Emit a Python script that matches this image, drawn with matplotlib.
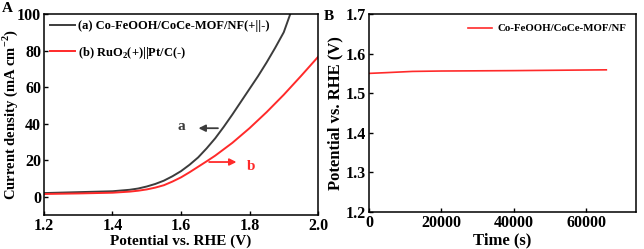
import matplotlib
matplotlib.use("Agg")
import matplotlib.pyplot as plt

plt.rcParams['font.family'] = ['Liberation Serif', 'DejaVu Serif']
plt.rcParams['font.weight'] = 'bold'
plt.rcParams['mathtext.fontset'] = 'custom'
plt.rcParams['mathtext.rm'] = 'Liberation Serif:bold'
plt.rcParams['mathtext.bf'] = 'Liberation Serif:bold'

# Panel A: LSV curves
potential_a = [1.20, 1.30, 1.40, 1.45, 1.475, 1.50, 1.525, 1.55, 1.575, 1.60, 1.625, 1.65, 1.675,
               1.70, 1.725, 1.75, 1.775, 1.80, 1.825, 1.85, 1.875, 1.90, 1.92]
current_a = [2.0, 2.5, 3.0, 3.8, 4.5, 5.6, 7.0, 8.8, 11.2, 14.0, 17.5, 21.5, 26.5,
             32.0, 38.3, 45.0, 52.0, 59.0, 66.0, 73.5, 81.5, 90.0, 100.5]
potential_b = [1.20, 1.30, 1.40, 1.45, 1.475, 1.50, 1.525, 1.55, 1.575, 1.60, 1.625, 1.65, 1.675,
               1.70, 1.75, 1.80, 1.85, 1.90, 1.95, 2.00]
current_b = [1.5, 1.8, 2.2, 2.8, 3.3, 4.0, 5.0, 6.3, 8.3, 10.6, 13.4, 16.4, 19.4,
             22.5, 29.5, 37.5, 46.3, 55.8, 66.0, 76.5]
label_a = '(a) Co-FeOOH/CoCe-MOF/NF(+||-)'
label_b = '(b) RuO$_2$(+)||Pt/C(-)'

# Panel B: stability
time_s = [0, 5000, 12000, 20000, 40000, 65500]
potential_t = [1.550, 1.552, 1.555, 1.556, 1.557, 1.559]
label_t = 'Co-FeOOH/CoCe-MOF/NF'

col_a = '#3c3c3c'
col_b = '#ff2a2a'

fig = plt.figure(figsize=(6.44, 2.49), dpi=100)
axA = fig.add_axes([0.0683, 0.1365, 0.4255, 0.8073])
axB = fig.add_axes([0.573, 0.1486, 0.4146, 0.7952])

axA.plot(potential_a, current_a, color=col_a, lw=1.4, label=label_a)
axA.plot(potential_b, current_b, color=col_b, lw=1.4, label=label_b)
axA.set_xlim(1.2, 2.0)
axA.set_ylim(-10, 100)
axA.set_xticks([1.2, 1.4, 1.6, 1.8, 2.0])
axA.set_yticks([0, 20, 40, 60, 80, 100])
axA.set_xlabel('Potential vs. RHE (V)', fontsize=11, fontweight='bold')
axA.set_ylabel('Current density (mA cm$^{-2}$)', fontsize=10.5, fontweight='bold')
axA.xaxis.set_label_coords(0.5, -0.096)
axA.yaxis.set_label_coords(-0.088, 0.5)
leg = axA.legend(loc='upper left', fontsize=9, frameon=False, handlelength=2.0,
                 handletextpad=0.2, borderaxespad=0.1, labelspacing=1.0)
axA.annotate('', xy=(1.643, 37.5), xytext=(1.716, 37.5),
             arrowprops=dict(arrowstyle='-|>', color=col_a, lw=1.3, mutation_scale=10))
axA.text(1.6, 38.5, 'a', color=col_a, fontsize=11, fontweight='bold', ha='center', va='center')
axA.annotate('', xy=(1.77, 19.0), xytext=(1.674, 19.0),
             arrowprops=dict(arrowstyle='-|>', color=col_b, lw=1.3, mutation_scale=10))
axA.text(1.805, 16.5, 'b', color=col_b, fontsize=11, fontweight='bold', ha='center', va='center')

axB.plot(time_s, potential_t, color=col_b, lw=1.2, label=label_t)
axB.set_xlim(0, 73700)
axB.set_ylim(1.2, 1.7)
axB.set_xticks([0, 20000, 40000, 60000])
axB.set_yticks([1.2, 1.3, 1.4, 1.5, 1.6, 1.7])
axB.set_xlabel('Time (s)', fontsize=12, fontweight='bold')
axB.set_ylabel('Potential vs. RHE (V)', fontsize=12, fontweight='bold')
axB.xaxis.set_label_coords(0.5, -0.105)
axB.yaxis.set_label_coords(-0.097, 0.5)
axB.legend(loc='upper right', fontsize=7.8, frameon=False, handlelength=2.2,
           handletextpad=0.5, borderaxespad=0.5)

for ax in (axA, axB):
    ax.tick_params(direction='in', labelsize=11.5, width=1, length=3)
    ax.tick_params(axis='x', pad=2)
    ax.tick_params(axis='y', pad=2)
    for lab in ax.get_xticklabels() + ax.get_yticklabels():
        lab.set_fontweight('bold')
    for sp in ax.spines.values():
        sp.set_linewidth(1.1)

fig.text(0.003, 0.99, 'A', fontsize=11, fontweight='bold', ha='left', va='top')
fig.text(0.503, 0.96, 'B', fontsize=11, fontweight='bold', ha='left', va='top')

fig.savefig('out.png', dpi=100)
